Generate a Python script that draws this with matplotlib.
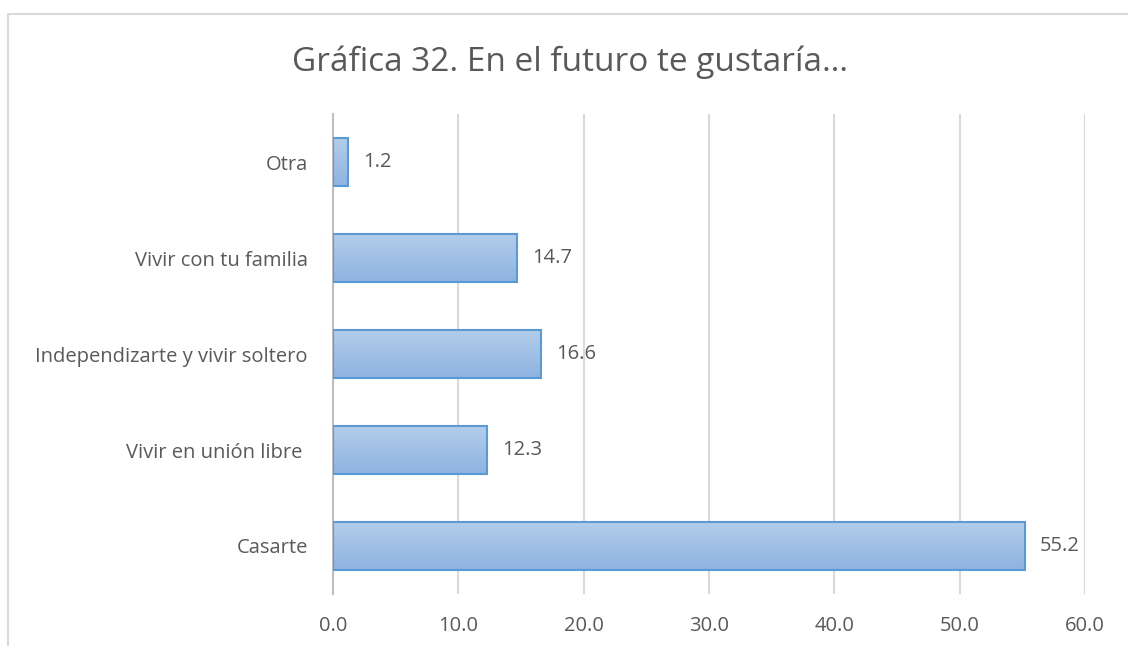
import numpy as np
import matplotlib.pyplot as plt
from matplotlib.patches import Rectangle

# Datos
categorias = ['Casarte', 'Vivir en unión libre ', 'Independizarte y vivir soltero',
              'Vivir con tu familia', 'Otra']
valores = [55.2, 12.3, 16.6, 14.7, 1.2]
ticks_x = [0, 10, 20, 30, 40, 50, 60]

plt.rcParams['font.family'] = ['Open Sans', 'DejaVu Sans']
gris = '#595959'

fig = plt.figure(figsize=(11.28, 6.46), dpi=100)
ax = fig.add_axes([0.2952, 0.0805, 0.6667, 0.743])

# Marco del gráfico
fig.patches.append(Rectangle((8 / 1128, -0.1), 1.2, 1 - 14 / 646 + 0.1,
                             transform=fig.transFigure, fill=False,
                             edgecolor='#d9d9d9', linewidth=1.5))

y = np.arange(len(categorias))
alto = 0.5

# Degradado de las barras (claro arriba, más oscuro abajo)
grad = np.linspace(0, 1, 100).reshape(-1, 1)
cmap = plt.matplotlib.colors.LinearSegmentedColormap.from_list('azul', ['#8eb3e2', '#b3cdea'])
for yi, v in zip(y, valores):
    ax.imshow(grad, extent=(0, v, yi - alto / 2, yi + alto / 2), cmap=cmap,
              aspect='auto', zorder=2, origin='lower')
    ax.text(v + 1.2, yi, f'{v:.1f}', va='center', ha='left', fontsize=14.5, color=gris)

ax.barh(y, valores, height=alto, fill=False, edgecolor='#5b9bd5', linewidth=1.5, zorder=3)

ax.set_xlim(0, 60)
ax.set_ylim(-0.5, len(categorias) - 0.5)
ax.set_xticks(ticks_x)
ax.set_xticklabels([f'{t:.1f}' for t in ticks_x])
ax.set_yticks(y)
ax.set_yticklabels(categorias)
ax.tick_params(axis='both', length=0, labelsize=14.5, labelcolor=gris)
ax.tick_params(axis='y', pad=18)
ax.tick_params(axis='x', pad=16)

ax.grid(axis='x', color='#d9d9d9', linewidth=1.5, zorder=0)
ax.set_axisbelow(True)
for s in ['top', 'right', 'bottom']:
    ax.spines[s].set_visible(False)
ax.spines['left'].set_color('#bfbfbf')
ax.spines['left'].set_linewidth(1.5)

fig.text(570 / 1128, 1 - 62 / 646, 'Gráfica 32. En el futuro te gustaría…', ha='center', va='center',
         fontsize=24, color=gris)

plt.savefig('out.png', dpi=100)
